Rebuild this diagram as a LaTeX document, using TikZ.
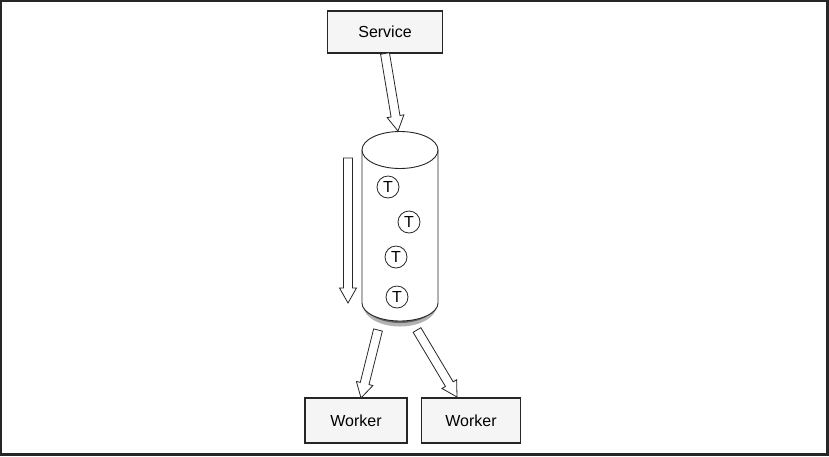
\documentclass[tikz,border=0pt]{standalone}
\usepackage{fontspec}
\setmainfont{Liberation Sans}
\usetikzlibrary{calc}
\tikzset{
  boxnode/.style={draw=black!85, line width=1.4pt, fill=black!4, minimum width=115pt, minimum height=42pt, font=\fontsize{16}{18}\selectfont, inner sep=0pt},
  tnode/.style={circle, draw=black!85, line width=0.8pt, minimum size=22pt, inner sep=0pt, font=\fontsize{16}{16}\selectfont},
  hollow/.style={draw=black!85, line width=0.8pt, fill=white, line join=miter},
}
\newcommand{\hollowarrow}[2]{%
  \coordinate (hb) at ($(#2)!15pt!(#1)$);
  \draw[hollow] ($(#1)!4.5pt!90:(#2)$) -- ($(hb)!4.5pt!-90:(#1)$) -- ($(hb)!8.5pt!-90:(#1)$) -- (#2)
    -- ($(hb)!8.5pt!90:(#1)$) -- ($(hb)!4.5pt!90:(#1)$) -- ($(#1)!4.5pt!-90:(#2)$) -- cycle;
}
\begin{document}
\begin{tikzpicture}[x=1pt,y=-1pt]
  \useasboundingbox (0,0) rectangle (829,456);
  \draw[line width=2.2pt, draw=black!85] (1,1) -- (1,454.5) -- (827.5,454.5) -- (827.5,1) -- cycle;
  \draw[line width=1.5pt, draw=black!85] (826.5,0) -- (826.5,456) (0,453.5) -- (829,453.5);
  % boxes
  \node[boxnode] (service) at (385,32) {Service};
  \node[boxnode, minimum width=102pt, minimum height=45pt] (w1) at (356,420.5) {Worker};
  \node[boxnode, minimum width=99pt, minimum height=45pt] (w2) at (471,420.5) {Worker};
  % cylinder shadow
  \fill[black!30] (363,305) arc[start angle=180, end angle=360, x radius=37pt, y radius=21.5pt] -- (437,300) -- (363,300) -- cycle;
  \fill[black!60] (364,303) arc[start angle=180, end angle=360, x radius=36pt, y radius=20pt] -- cycle;
  % cylinder
  \draw[line width=0.9pt, draw=black!85, fill=white] (362,150) -- (362,303) arc[start angle=180, end angle=360, x radius=38pt, y radius=18pt] -- (438,150);
  \draw[line width=0.9pt, draw=black!85, fill=white] (400,150) ellipse[x radius=38pt, y radius=18.5pt];
  \coordinate (cyltop) at (398,131);
  \coordinate (cylbl) at (378,330);
  \coordinate (cylbr) at (417,330);
  % T circles
  \node[tnode] (t1) at (388,187) {T};
  \node[tnode] (t2) at (409,222) {T};
  \node[tnode] (t3) at (396,257) {T};
  \node[tnode] (t4) at (397,297) {T};
  % arrows
  \coordinate (sv) at (385,53.5);
  \hollowarrow{sv}{cyltop}
  \coordinate (qa) at (348,158);
  \coordinate (qb) at (348,303);
  \hollowarrow{qa}{qb}
  \coordinate (w1t) at (361,398);
  \coordinate (w2t) at (457,397);
  \hollowarrow{cylbl}{w1t}
  \hollowarrow{cylbr}{w2t}
\end{tikzpicture}
\end{document}
